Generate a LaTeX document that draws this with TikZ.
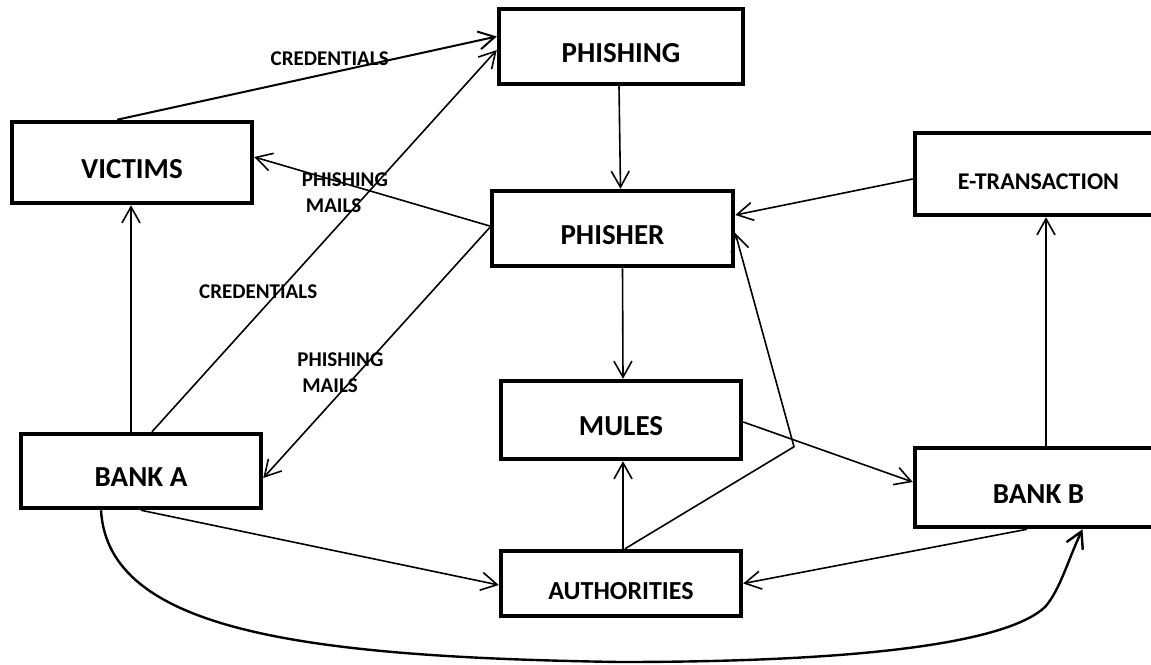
\documentclass[tikz,border=0pt]{standalone}
\usepackage{fontspec}
\setmainfont{Carlito}
\usetikzlibrary{arrows.meta}

\begin{document}
\begin{tikzpicture}[x=1pt,y=-1pt,
    entity/.style={draw,rectangle,line width=4.5pt,inner sep=0pt,
      text height=31pt,text depth=0pt,font=\fontsize{29}{34}\selectfont\bfseries},
    lbl/.style={inner sep=0pt,align=left,font=\fontsize{21}{26}\selectfont\bfseries},
    >={Straight Barb[length=16pt,width=18pt]}]
  \useasboundingbox (0,0) rectangle (1151,664);
  \draw
    (621,46.5) node[entity,minimum width=244pt,minimum height=75pt] (phishing){PHISHING}
    (132,162.5) node[entity,minimum width=240pt,minimum height=81pt] (victims){VICTIMS}
    (612.5,228.5) node[entity,minimum width=241pt,minimum height=75pt] (phisher){PHISHER}
    (1038.5,174) node[entity,minimum width=247pt,minimum height=82pt,
      font=\fontsize{24}{28}\selectfont\bfseries] (etrans){E-TRANSACTION}
    (621,420) node[entity,minimum width=240pt,minimum height=78pt] (mules){MULES}
    (141,471) node[entity,minimum width=240pt,minimum height=74pt] (banka){BANK A}
    (1038.5,487.5) node[entity,minimum width=247pt,minimum height=79pt] (bankb){BANK B}
    (621,583.5) node[entity,minimum width=240pt,minimum height=65pt,
      font=\fontsize{26}{30}\selectfont\bfseries] (auth){AUTHORITIES};
  \begin{scope}[->,line width=1.6pt]
    \draw[line width=2pt] ([xshift=-15pt]victims.north) -- ([yshift=10pt]phishing.west)
      node[lbl,pos=0.56,yshift=14pt]{CREDENTIALS};
    \draw ([yshift=2.5pt]phisher.west) -- ([yshift=5.5pt]victims.east)
      node[lbl,pos=0.615,yshift=-9.5pt]{PHISHING\\\hspace*{4pt}MAILS};
    \draw ([xshift=11pt]banka.north) -- ([yshift=-3.5pt]phishing.west)
      node[lbl,pos=0.366,xshift=-20pt]{CREDENTIALS};
    \draw ([yshift=1pt]phisher.west) -- ([yshift=-7pt]banka.east)
      node[lbl,pos=0.58,xshift=-18pt]{PHISHING\\\hspace*{5pt}MAILS};
    \draw ([xshift=-2pt]phishing.south) -- ([xshift=8pt]phisher.north);
    \draw ([yshift=-5pt]etrans.west) -- ([yshift=13.5pt]phisher.east);
    \draw ([xshift=10pt]phisher.south) -- ([xshift=2pt]mules.north);
    \draw ([xshift=2pt]auth.north) -- ([xshift=2pt]mules.south);
    \draw ([xshift=4pt]auth.north) -- ++(169,-102) -- ([yshift=-4.5pt]phisher.east);
    \draw ([yshift=-2pt]mules.east) -- ([yshift=5.5pt]bankb.west);
    \draw ([xshift=7.5pt]bankb.north) -- ([xshift=7.5pt]etrans.south);
    \draw ([xshift=-10pt]banka.north) -- ([xshift=-1pt]victims.south);
    \draw (banka.south) -- ([yshift=-1.5pt]auth.west);
    \draw ([xshift=-11.5pt]bankb.south) -- (auth.east);
    \draw[line width=2.4pt] ([xshift=-40pt]banka.south)
      .. controls (108,630) and (300,657) .. (620,662)
      .. controls (880,662) and (1010,640) .. (1045,607)
      .. controls (1060,590) and (1068,560) .. ([xshift=44pt]bankb.south);
  \end{scope}
\end{tikzpicture}
\end{document}
